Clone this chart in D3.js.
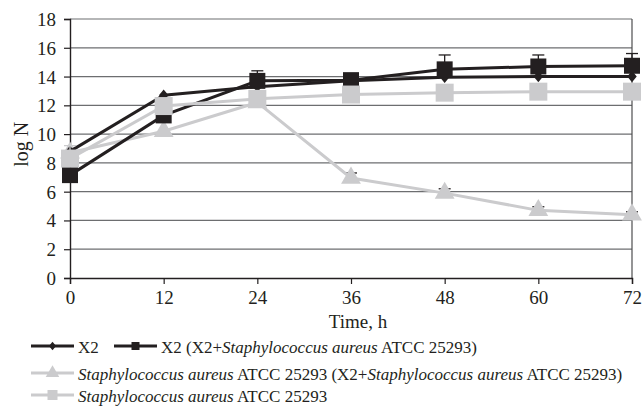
<!DOCTYPE html>
<html>
<head>
<meta charset="utf-8">
<script src="https://cdn.jsdelivr.net/npm/d3@7"></script>
<style>
  body { margin: 0; background: #fff; }
  text { font-family: 'Liberation Serif', 'Times New Roman', serif; fill: #231f20; }
</style>
</head>
<body>
<svg width="644" height="406"></svg>
<script>
const BLACK = '#231f20';
const GRAY = '#cbcbcd';

const hours = [0, 12, 24, 36, 48, 60, 72];
const yTicks = [0, 2, 4, 6, 8, 10, 12, 14, 16, 18];

// log N values
const x2 = [8.8, 12.7, 13.3, 13.7, 13.95, 14.0, 14.0];
const x2Mixed = [7.15, 11.3, 13.7, 13.75, 14.5, 14.7, 14.75];
const x2MixedErr = [0, 0, 0.7, 0.45, 1.0, 0.8, 0.85];
const staphMixed = [8.7, 10.2, 12.2, 6.95, 5.9, 4.7, 4.4];
const staphMixedErr = [0, 0, 0, 0.35, 0.3, 0.25, 0.2];
const staph = [8.3, 11.95, 12.45, 12.75, 12.88, 12.95, 12.95];
const staphErr = [0.9, 0, 0, 0, 0, 0, 0];

const svg = d3.select('svg');
const margin = { left: 70, right: 12, top: 19, bottom: 128 };
const width = +svg.attr('width'), height = +svg.attr('height');

const x = d3.scaleLinear().domain([0, 72]).range([margin.left, width - margin.right]);
const y = d3.scaleLinear().domain([0, 18]).range([height - margin.bottom, margin.top]);

// gridlines
svg.append('g')
  .selectAll('line')
  .data(yTicks.slice(1))
  .enter().append('line')
  .attr('x1', x(0)).attr('x2', x(72))
  .attr('y1', d => y(d)).attr('y2', d => y(d))
  .attr('stroke', '#6d6e70').attr('stroke-width', 1.2);

// right border
svg.append('line')
  .attr('x1', x(72)).attr('x2', x(72))
  .attr('y1', y(18)).attr('y2', y(0))
  .attr('stroke', '#4d4d4f').attr('stroke-width', 1.2);

const xAxis = svg.append('g')
  .attr('transform', 'translate(0,' + y(0) + ')')
  .call(d3.axisBottom(x).tickValues(hours).tickSize(6).tickPadding(5));
const yAxis = svg.append('g')
  .attr('transform', 'translate(' + x(0) + ',0)')
  .call(d3.axisLeft(y).tickValues(yTicks).tickSize(6).tickPadding(8));

[xAxis, yAxis].forEach(a => {
  a.select('.domain').attr('stroke', BLACK).attr('stroke-width', 1.4);
  a.selectAll('.tick line').attr('stroke', BLACK).attr('stroke-width', 1.2);
  a.selectAll('text')
    .style('font-family', "'Liberation Serif', serif")
    .style('font-size', '19px')
    .attr('fill', BLACK);
});
xAxis.selectAll('text').attr('dy', '0.8em');
yAxis.selectAll('text').attr('dy', '0.34em');

svg.append('text')
  .attr('x', 358).attr('y', 328)
  .attr('text-anchor', 'middle')
  .style('font-size', '19px')
  .text('Time, h');

svg.append('text')
  .attr('transform', 'translate(28,' + y(9.3) + ') rotate(-90)')
  .attr('text-anchor', 'middle')
  .style('font-size', '20px')
  .text('log N');

const line = d3.line()
  .x((d, i) => x(hours[i]))
  .y(d => y(d));

function errorBars(vals, errs, color) {
  const g = svg.append('g').attr('stroke', color).attr('stroke-width', 1.3);
  vals.forEach((v, i) => {
    if (!errs[i]) return;
    g.append('line')
      .attr('x1', x(hours[i])).attr('x2', x(hours[i]))
      .attr('y1', y(v)).attr('y2', y(v + errs[i]));
    g.append('line')
      .attr('x1', x(hours[i]) - 6).attr('x2', x(hours[i]) + 6)
      .attr('y1', y(v + errs[i])).attr('y2', y(v + errs[i]));
  });
}

function drawSeries(vals, errs, color, symbol, size, errColor) {
  if (errs) errorBars(vals, errs, errColor || color);
  svg.append('path')
    .datum(vals)
    .attr('fill', 'none')
    .attr('stroke', color)
    .attr('stroke-width', 3)
    .attr('d', line);
  svg.append('g')
    .selectAll('path')
    .data(vals)
    .enter().append('path')
    .attr('transform', (d, i) => 'translate(' + x(hours[i]) + ',' + y(d) + ')')
    .attr('d', d3.symbol().type(symbol).size(size))
    .attr('fill', color);
}

const diamond = {
  draw(ctx, size) {
    const r = Math.sqrt(size) / 2;
    ctx.moveTo(0, -r * 1.2); ctx.lineTo(r, 0); ctx.lineTo(0, r * 1.2); ctx.lineTo(-r, 0); ctx.closePath();
  }
};

drawSeries(staphMixed, staphMixedErr, GRAY, d3.symbolTriangle, 170, BLACK);
drawSeries(x2, null, BLACK, diamond, 90);
drawSeries(x2Mixed, x2MixedErr, BLACK, d3.symbolSquare, 256);
drawSeries(staph, staphErr, GRAY, d3.symbolSquare, 324);

// legend
const legend = [
  { label: ['X2'], color: BLACK, symbol: diamond, size: 50, x: 31, y: 353 },
  { label: ['X2 (X2+', { i: 'Staphylococcus aureus' }, ' ATCC 25293)'], color: BLACK, symbol: d3.symbolSquare, size: 64, x: 114, y: 353 },
  { label: [{ i: 'Staphylococcus aureus' }, ' ATCC 25293 (X2+', { i: 'Staphylococcus aureus' }, ' ATCC 25293)'], color: GRAY, symbol: d3.symbolTriangle, size: 80, x: 31, y: 380 },
  { label: [{ i: 'Staphylococcus aureus' }, ' ATCC 25293'], color: GRAY, symbol: d3.symbolSquare, size: 100, x: 31, y: 402 }
];

const lg = svg.append('g').selectAll('g').data(legend).enter().append('g');
lg.append('line')
  .attr('x1', d => d.x).attr('x2', d => d.x + 43)
  .attr('y1', d => d.y - 7).attr('y2', d => d.y - 7)
  .attr('stroke', d => d.color).attr('stroke-width', 3);
lg.append('path')
  .attr('transform', d => 'translate(' + (d.x + 21.5) + ',' + (d.y - 7) + ')')
  .attr('d', d => d3.symbol().type(d.symbol).size(d.size)())
  .attr('fill', d => d.color);
lg.append('text')
  .attr('x', d => d.x + 47).attr('y', d => d.y)
  .style('font-size', '17px')
  .each(function (d) {
    const t = d3.select(this);
    d.label.forEach(part => {
      if (typeof part === 'string') t.append('tspan').text(part);
      else t.append('tspan').style('font-style', 'italic').text(part.i);
    });
  });
</script>
</body>
</html>
